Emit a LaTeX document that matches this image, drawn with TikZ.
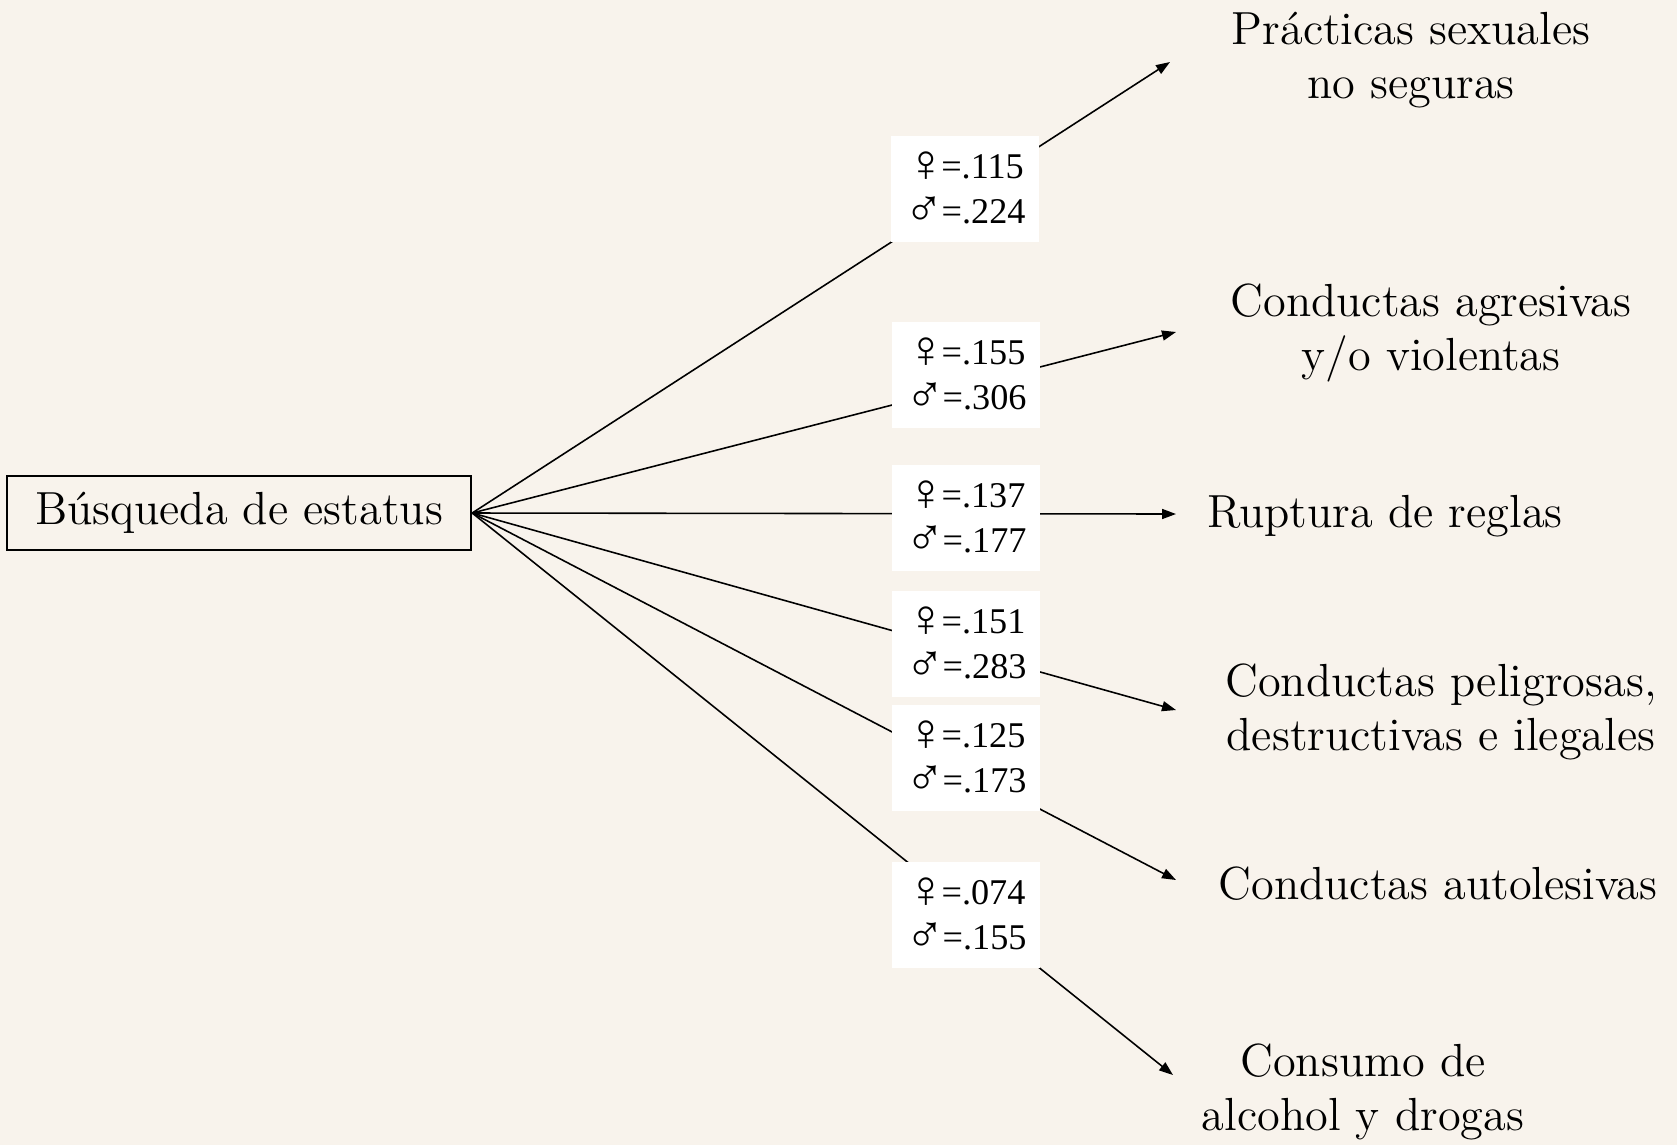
\documentclass[tikz,border=0pt]{standalone}
\usepackage{fontspec}
\usetikzlibrary{arrows.meta}

\newfontfamily\numfont{Liberation Serif}
\newcommand{\fem}{\smash{\raisebox{-0.9pt}{\fontsize{15}{0}\selectfont ♀}}\kern-1.3pt}
\newcommand{\mas}{\smash{\raisebox{-0.9pt}{\fontsize{15}{0}\selectfont ♂}}\kern-0.7pt}
\definecolor{parchment}{RGB}{248,243,236}

\tikzset{
	srcbox/.style={draw,semithick,minimum width=4.64cm,minimum height=0.74cm,font=\fontsize{13.2}{15.5}\selectfont},
	outcome/.style={align=center,font=\fontsize{13.2}{15.5}\selectfont},
	coef/.style={fill=white,minimum width=1.48cm,minimum height=1.06cm,align=center,font=\numfont\fontsize{10.3}{12.8}\selectfont},
	link/.style={-{Triangle[length=0.14cm,width=0.1cm]},line width=0.45pt}
}

\begin{document}
\begin{tikzpicture}[x=0.01cm,y=-0.01cm]
	\fill[parchment] (0,0) rectangle (1677,1145);
	\useasboundingbox (0,0) rectangle (1677,1145);

	\node[srcbox] (bus) at (239,513) {Búsqueda de estatus};

	\node[outcome] (sex) at (1411,60) {Prácticas sexuales\\no seguras};
	\node[outcome] (agr) at (1431,333) {Conductas agresivas\\y/o violentas};
	\node[outcome] (rup) at (1385,516) {Ruptura de reglas};
	\node[outcome] (pel) at (1441,712) {Conductas peligrosas,\\destructivas e ilegales};
	\node[outcome] (aut) at (1438,884) {Conductas autolesivas};
	\node[outcome] (con) at (1363,1092) {Consumo de\\alcohol y drogas};

	\coordinate (e1) at (1170,62);
	\coordinate (e2) at (1176,332);
	\coordinate (e3) at (1176,514);
	\coordinate (e4) at (1176,710);
	\coordinate (e5) at (1176,880);
	\coordinate (e6) at (1173,1075);

	\draw[link] (bus.east) -- (e1);
	\draw[link] (bus.east) -- (e2);
	\draw[link] (bus.east) -- (e3);
	\draw[link] (bus.east) -- (e4);
	\draw[link] (bus.east) -- (e5);
	\draw[link] (bus.east) -- (e6);

	\node[coef] (c1) at (965,189) {\fem=.115\\\mas=.224};
	\node[coef] (c2) at (966,375) {\fem=.155\\\mas=.306};
	\node[coef] (c3) at (966,518) {\fem=.137\\\mas=.177};
	\node[coef] (c4) at (966,644) {\fem=.151\\\mas=.283};
	\node[coef] (c5) at (966,758) {\fem=.125\\\mas=.173};
	\node[coef] (c6) at (966,915) {\fem=.074\\\mas=.155};
\end{tikzpicture}
\end{document}
